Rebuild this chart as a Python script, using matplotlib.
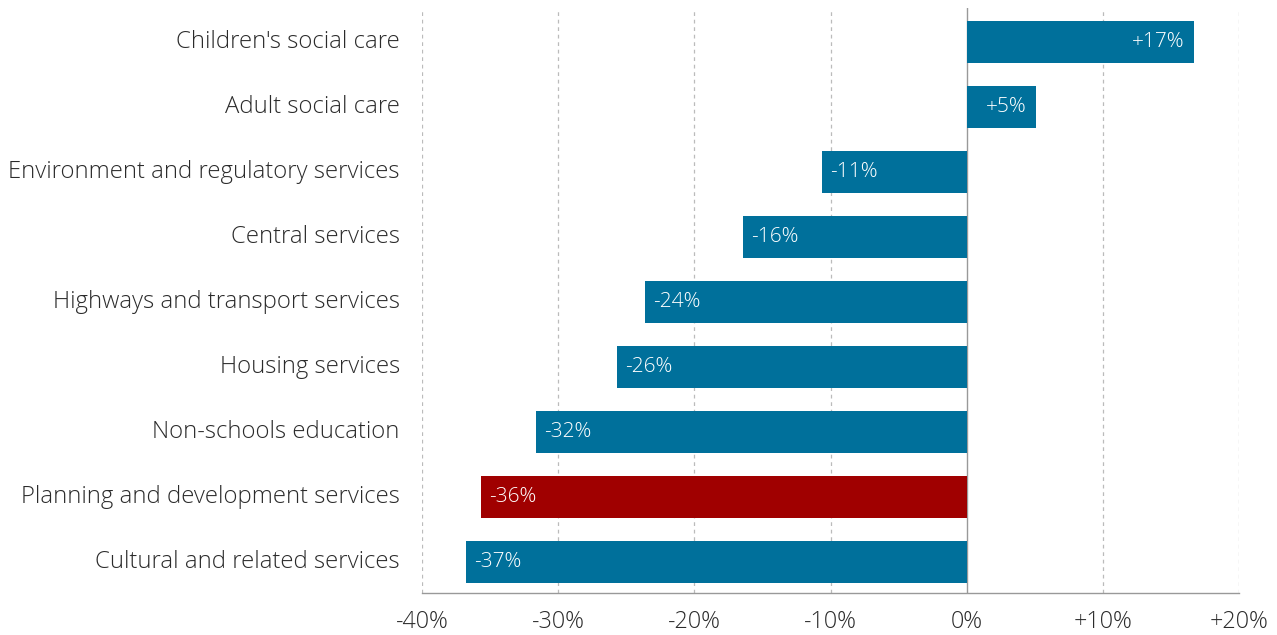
import matplotlib
matplotlib.use("Agg")
import matplotlib.pyplot as plt
from matplotlib.transforms import ScaledTranslation

categories = [
    "Children's social care",
    "Adult social care",
    "Environment and regulatory services",
    "Central services",
    "Highways and transport services",
    "Housing services",
    "Non-schools education",
    "Planning and development services",
    "Cultural and related services",
]
changes = [16.7, 5.1, -10.6, -16.4, -23.6, -25.7, -31.6, -35.7, -36.8]
highlight = "Planning and development services"
x_ticks = [-40, -30, -20, -10, 0, 10, 20]
x_tick_labels = ["-40%", "-30%", "-20%", "-10%", "0%", "+10%", "+20%"]

BLUE = "#00709b"
RED = "#a00000"
TEXT = "#2b2b2b"
GRID = "#bbbbbb"

plt.rcParams["font.family"] = ["Open Sans", "DejaVu Sans"]

fig = plt.figure(figsize=(12.77, 6.35), dpi=100)
ax = fig.add_axes([422 / 1277, 1 - 593 / 635, (1239 - 422) / 1277, (593 - 8) / 635])

ypos = list(range(len(categories)))
colors = [RED if c == highlight else BLUE for c in categories]
ax.barh(ypos, changes, height=0.66, color=colors, zorder=3)

for y, v in zip(ypos, changes):
    label = f"{v:+.0f}%"
    if v >= 0:
        ax.text(v - 0.7, y, label, ha="right", va="center", color="white",
                fontsize=15, fontweight="light", zorder=4)
    else:
        ax.text(v + 0.6, y, label, ha="left", va="center", color="white",
                fontsize=15, fontweight="light", zorder=4)

ax.set_xlim(-40, 20)
ax.set_ylim(len(categories) - 1 + 0.477, -0.523)

for t in x_ticks:
    if t == 0:
        ax.axvline(t, color="#999999", lw=1.0, zorder=2)
    else:
        ax.axvline(t, color=GRID, lw=0.9, ls=(0, (3, 3)), zorder=1)

ax.set_xticks(x_ticks)
ax.set_xticklabels(x_tick_labels, fontsize=16.8, color=TEXT, fontweight="light")
ax.set_yticks(ypos)
ax.set_yticklabels(categories, fontsize=17.2, color=TEXT, fontweight="light")
ax.tick_params(axis="x", length=0, pad=12)
ax.tick_params(axis="y", length=0, pad=16)

# nudge category labels slightly upward
lift = ScaledTranslation(0, 3 / 100, fig.dpi_scale_trans)
for lbl in ax.get_yticklabels():
    lbl.set_transform(lbl.get_transform() + lift)

for side in ["top", "right", "left"]:
    ax.spines[side].set_visible(False)
ax.spines["bottom"].set_color("#999999")
ax.spines["bottom"].set_linewidth(1.0)

fig.savefig("out.png", dpi=100, facecolor="white")
